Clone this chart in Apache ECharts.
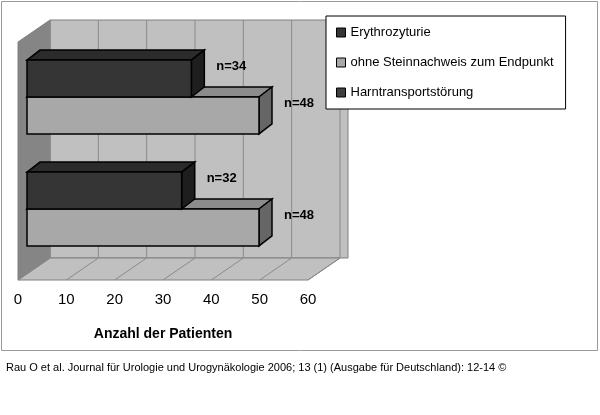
<!DOCTYPE html>
<html>
<head>
<meta charset="utf-8">
<script src="https://cdn.jsdelivr.net/npm/echarts@6/dist/echarts.min.js"></script>
<style>html,body{margin:0;background:#fff}#chart{width:600px;height:415px}</style>
</head>
<body>
<div id="chart"></div>
<script>
// data
const categories = ['unten', 'oben'];
const seriesNames = ['Erythrozyturie', 'ohne Steinnachweis zum Endpunkt', 'Harntransportstörung'];
const erythro = [[34, 1]];
const ohneStein = [[48, 0], [48, 1]];
const harntrans = [[32, 0]];
const ticks = [0, 10, 20, 30, 40, 50, 60];

const DX = 13, DY = -10;     // bar depth
const FX = 32, FY = -22;     // floor depth

function barItem(pos, front, topC, sideC) {
  return function (params, api) {
    const v = api.value(0), cat = api.value(1);
    const p0 = api.coord([0, cat]);
    const p1 = api.coord([v, cat]);
    const h = api.size([0, 1])[1] * 0.33;
    const top = p0[1] - 6 + (pos === 0 ? -h : 0);
    const x0 = p0[0] + 9, x1 = p1[0] + 9;
    const st = { stroke: '#000', lineWidth: 1.5 };
    return {
      type: 'group',
      children: [
        { type: 'polygon', shape: { points: [[x0, top], [x0 + DX, top + DY], [x1 + DX, top + DY], [x1, top]] }, style: Object.assign({ fill: topC }, st) },
        { type: 'polygon', shape: { points: [[x1, top], [x1 + DX, top + DY], [x1 + DX, top + h + DY], [x1, top + h]] }, style: Object.assign({ fill: sideC }, st) },
        { type: 'rect', shape: { x: x0, y: top, width: x1 - x0, height: h }, style: Object.assign({ fill: front }, st) },
        { type: 'text', style: { text: 'n=' + v, x: x1 + 25, y: top + 6, font: 'bold 13px Arial', fill: '#000', textVerticalAlign: 'middle' } }
      ]
    };
  };
}

function wallItem(params, api) {
  const cs = params.coordSys;
  const F = cs.y + cs.height + 9;
  const xs = ticks.map(t => api.coord([t, 0])[0]);
  const x0 = xs[0], xe = xs[xs.length - 1];
  const wallTop = 20;
  const kids = [
    { type: 'polygon', shape: { points: [[x0 + FX, wallTop], [xe + FX + 8, wallTop], [xe + FX + 8, F + FY], [x0 + FX, F + FY]] }, style: { fill: '#c0c0c0', stroke: '#808080', lineWidth: 1 } },
    { type: 'polygon', shape: { points: [[x0, F], [xe, F], [xe + FX, F + FY], [x0 + FX, F + FY]] }, style: { fill: '#c0c0c0', stroke: '#808080', lineWidth: 1 } },
    { type: 'polygon', shape: { points: [[x0, F], [x0 + FX, F + FY], [x0 + FX, wallTop], [x0, wallTop - FY]] }, style: { fill: '#858585', stroke: '#808080', lineWidth: 1 } }
  ];
  xs.forEach(x => {
    kids.push({ type: 'line', shape: { x1: x + FX, y1: wallTop, x2: x + FX, y2: F + FY }, style: { stroke: '#8a8a8a', lineWidth: 1 } });
    kids.push({ type: 'line', shape: { x1: x, y1: F, x2: x + FX, y2: F + FY }, style: { stroke: '#8a8a8a', lineWidth: 1 } });
  });
  return { type: 'group', children: kids };
}

const chart = echarts.init(document.getElementById('chart'));
chart.setOption({
  animation: false,
  backgroundColor: '#fff',
  textStyle: { fontFamily: 'Arial, Liberation Sans' },
  title: {
    text: 'Rau O et al. Journal für Urologie und Urogynäkologie 2006; 13 (1) (Ausgabe für Deutschland): 12-14 ©',
    left: 1, top: 357,
    textStyle: { fontSize: 11, fontWeight: 'normal', color: '#000' }
  },
  graphic: [{ type: 'rect', shape: { x: 1.5, y: 1.5, width: 596, height: 349 }, style: { fill: 'none', stroke: '#999', lineWidth: 1 }, z: -1 }],
  legend: {
    orient: 'vertical', left: 326, top: 16,
    data: seriesNames,
    itemWidth: 9, itemHeight: 9, itemGap: 17,
    padding: [10, 12, 10, 10],
    backgroundColor: '#fff', borderColor: '#000', borderWidth: 1,
    textStyle: { fontSize: 13, color: '#000' },
    icon: 'rect',
    itemStyle: { borderColor: '#000', borderWidth: 1 }
  },
  grid: { left: 18, right: 292, top: 47, bottom: 144 },
  xAxis: {
    type: 'value', min: 0, max: 60, interval: 10,
    axisLine: { show: false }, axisTick: { show: false }, splitLine: { show: false },
    axisLabel: { margin: 21, fontSize: 15, color: '#000' },
    name: 'Anzahl der Patienten', nameLocation: 'middle', nameGap: 56,
    nameTextStyle: { fontSize: 14, fontWeight: 'bold', color: '#000', padding: [0, 0, 0, 0] }
  },
  yAxis: { type: 'category', data: categories, show: false },
  series: [
    { type: 'custom', name: 'wall', data: [[0, 0]], renderItem: wallItem, z: 1, silent: true },
    { type: 'custom', name: seriesNames[0], data: erythro, encode: { x: 0, y: 1 }, renderItem: barItem(0, '#353535', '#2b2b2b', '#1e1e1e'), itemStyle: { color: '#353535' }, z: 3 },
    { type: 'custom', name: seriesNames[1], data: ohneStein, encode: { x: 0, y: 1 }, renderItem: barItem(1, '#a8a8a8', '#8c8c8c', '#666666'), itemStyle: { color: '#a8a8a8' }, z: 2 },
    { type: 'custom', name: seriesNames[2], data: harntrans, encode: { x: 0, y: 1 }, renderItem: barItem(0, '#353535', '#2b2b2b', '#1e1e1e'), itemStyle: { color: '#404040' }, z: 3 }
  ]
});
</script>
</body>
</html>
